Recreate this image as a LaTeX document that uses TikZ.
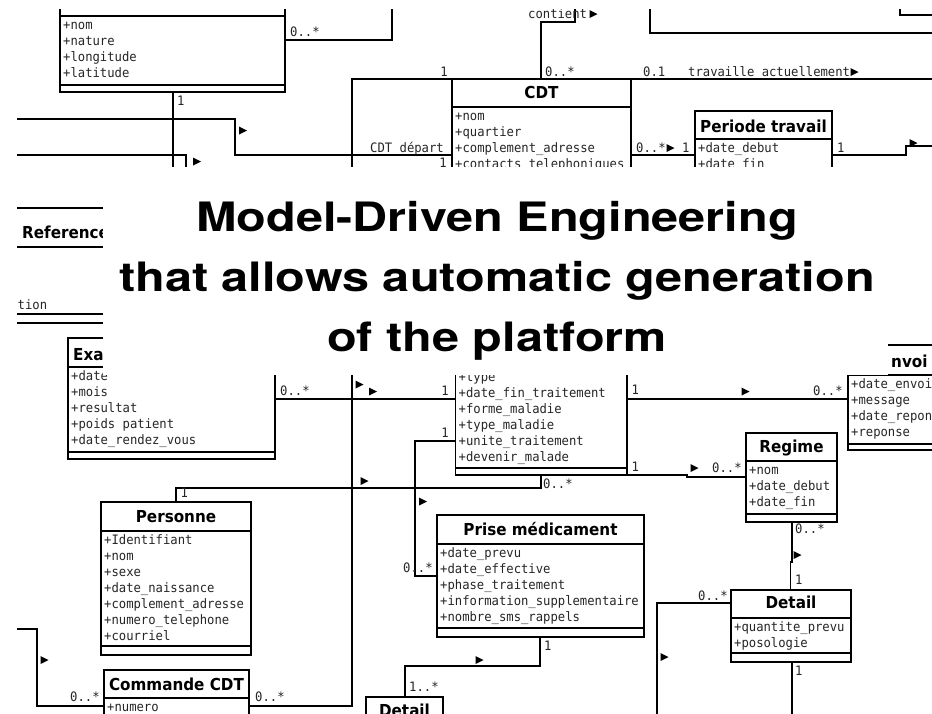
\documentclass[tikz,border=0pt]{standalone}
\usepackage{fontspec}
\newfontfamily\monof[FakeStretch=0.94]{DejaVu Sans Mono}
\newfontfamily\clsf[FakeStretch=0.92]{DejaVu Sans}
\newfontfamily\headf[FakeStretch=1.2]{TeX Gyre Heros}

\tikzset{
  uml/.style={line width=1.7pt, line join=miter},
  clsbox/.style={draw, line width=1.7pt, inner sep=0pt, outer sep=0pt, anchor=north west},
  clsname/.style={font=\clsf\bfseries\fontsize{16.5}{18}\selectfont, inner sep=0pt, anchor=base},
  attr/.style={font=\monof\fontsize{13}{16}\selectfont, inner sep=0pt, anchor=base west, text=black!85},
  mult/.style={attr},
  multr/.style={attr, anchor=base east},
  headline/.style={font=\headf\bfseries\fontsize{40.5}{48}\selectfont, inner sep=0pt, anchor=base},
}

% class box: name, left, top, right, separator y, attribute bottom y, bottom y
\newcommand\umlbox[7]{%
  \node[clsbox, minimum width={(#4)-(#2)}, minimum height={(#7)-(#3)}] (#1) at (#2,#3) {};
  \draw[uml] (#2,#5) -- (#4,#5);
  \draw[uml] (#2,#6) -- (#4,#6);
}
% attribute rows: box name, left x, separator y, list
\newcommand\umlattrs[4]{%
  \foreach \t [count=\i] in {#4} {\node[attr] (#1-a\i) at ({#2+3},{#3+13.5+16*(\i-1)}) {\t};}
}
% reading-direction triangle
\newcommand\navtip[2]{\fill ({#1-3.5},{#2-4}) -- ({#1-3.5},{#2+4}) -- ({#1+4.5},{#2}) -- cycle;}

\begin{document}
\begin{tikzpicture}[x=1pt,y=-1pt]
\useasboundingbox (0,0) rectangle (932,713);
\fill[white] (0,0) rectangle (932,713);

\begin{scope}
\clip (17,9) rectangle (932,713);

% ---------- classes ----------
\umlbox{loc}{60}{-20}{285}{16}{85}{92}
\umlattrs{loc}{60}{16}{+nom,+nature,+longitude,+latitude}

\umlbox{cdt}{452}{79}{631}{107}{300}{307}
\node[clsname] (cdt-t) at (541.5,98) {CDT};
\umlattrs{cdt}{452}{107}{+nom,+quartier,+complement\_adresse,+contacts\_telephoniques}

\umlbox{periode}{695}{111}{832}{139}{300}{307}
\node[clsname] (periode-t) at (763.5,132) {Periode travail};
\umlattrs{periode}{695}{139}{+date\_debut,+date\_fin}

\umlbox{reference}{-10}{208}{220}{247}{314}{323}
\node[clsname, anchor=base west] (reference-t) at (22,238.5) {Reference};
\node[attr] (reference-a1) at (17.5,309.5) {tion};

\umlbox{exa}{68}{338}{275}{367}{452}{459}
\node[clsname, anchor=base west] (exa-t) at (73,360) {Exa};
\umlattrs{exa}{68}{367}{+date,+mois,+resultat,+poids patient,+date\_rendez\_vous}

\umlbox{mid}{455.5}{320}{627}{348}{468}{475}
\umlattrs{mid}{455.5}{367.5}{+type,+date\_fin\_traitement,+forme\_maladie,+type\_maladie,+unite\_traitement,+devenir\_malade}

\umlbox{envoi}{848}{345}{960}{375}{444}{450}
\node[clsname, anchor=base west] (envoi-t) at (891,367) {nvoi};
\umlattrs{envoi}{848}{375}{+date\_envoi,+message,+date\_repon,+reponse}

\umlbox{regime}{746}{433}{837}{461}{514}{522}
\node[clsname] (regime-t) at (791.5,452) {Regime};
\umlattrs{regime}{746}{461}{+nom,+date\_debut,+date\_fin}

\umlbox{personne}{101}{502}{251}{531}{646}{655}
\node[clsname] (personne-t) at (176,522) {Personne};
\umlattrs{personne}{101}{531}{+Identifiant,+nom,+sexe,+date\_naissance,+complement\_adresse,+numero\_telephone,+courriel}

\umlbox{prise}{437}{515}{644}{544}{628}{637}
\node[clsname] (prise-t) at (540.5,535) {Prise médicament};
\umlattrs{prise}{437}{544}{+date\_prevu,+date\_effective,+phase\_traitement,+information\_supplementaire,+nombre\_sms\_rappels}

\umlbox{detail}{731}{590}{851}{618}{653}{662}
\node[clsname] (detail-t) at (791,608) {Detail};
\umlattrs{detail}{731}{618}{+quantite\_prevu,+posologie}

\umlbox{commande}{104}{670}{249}{698}{760}{770}
\node[clsname] (commande-t) at (176.5,690) {Commande CDT};
\umlattrs{commande}{104}{698}{+numero}

\umlbox{detailb}{366}{697}{443}{725}{760}{770}
\node[clsname] (detailb-t) at (404.5,716) {Detail};

% ---------- associations ----------
\draw[uml] (loc.east |- 0,40) -- (392,40) -- (392,0);
\node[mult] (m1) at (290,36.5) {0..*};

\draw[uml] (loc.south -| 173,0) -- (173,250);
\node[mult] (m2) at (177,105) {1};

\draw[uml] (0,119) -- (235,119) -- (235,155) -- (cdt.west |- 0,155);
\navtip{242.5}{130.5}
\node[multr] (m3) at (444,152.5) {CDT départ};
\node[multr] (m4) at (447,167.5) {1};

\draw[uml] (0,155) -- (186,155) -- (186,250);
\navtip{196.5}{161.5}

\draw[uml] (commande.east |- 0,706) -- (352,706) -- (352,79) -- (cdt.north west);
\node[multr] (m5) at (448,76.5) {1};
\node[mult] (m6) at (255,701.5) {0..*};
\navtip{359}{384.5}

\draw[uml] (cdt.north -| 541,0) -- (541,22) -- (575,22) -- (575,0);
\node[mult] (m7) at (545,76.5) {0..*};
\node[mult] (m8) at (528,18.5) {contient};
\navtip{593}{14}

\draw[uml] (cdt.north east) -- (940,79);
\node[mult] (m9) at (643,76.5) {0.1};
\node[mult] (m10) at (688,76.5) {travaille actuellement};
\navtip{854}{72}

\draw[uml] (650,0) -- (650,33) -- (940,33);
\draw[uml] (900,0) -- (900,15) -- (940,15);

\draw[uml] (cdt.east |- 0,155) -- (periode.west |- 0,155);
\node[mult] (m11) at (636,152.5) {0..*};
\navtip{670}{148}
\node[mult] (m12) at (682,152.5) {1};

\draw[uml] (periode.east |- 0,155) -- (906,155) -- (906,146) -- (940,146);
\node[mult] (m13) at (837,152) {1};
\navtip{913}{143}

\draw[uml] (exa.east |- 0,399) -- (mid.west |- 0,399);
\node[mult] (m14) at (280,395.5) {0..*};
\node[multr] (m15) at (449,395.5) {1};
\navtip{372.5}{391.5}

\draw[uml] (mid.west |- 0,441) -- (415,441) -- (415,576) -- (prise.west |- 0,576);
\node[multr] (m16) at (449,437.5) {1};
\node[mult] (m17) at (403,572.5) {0..*};
\navtip{422.5}{501.5}

\draw[uml] (mid.south -| 541,0) -- (541,488) -- (176,488) -- (personne.north -| 176,0);
\node[mult] (m18) at (543,488.5) {0..*};
\node[mult] (m19) at (180.5,497.5) {1};
\navtip{364}{481}

\draw[uml] (mid.east |- 0,399) -- (envoi.west |- 0,399);
\node[mult] (m20) at (631.5,394.5) {1};
\node[mult] (m21) at (813,395.5) {0..*};
\navtip{745}{391.5}

\draw[uml] (mid.south east) -- (687,475) -- (687,477) -- (regime.west |- 0,477);
\node[mult] (m22) at (631.5,471) {1};
\node[mult] (m23) at (712,472) {0..*};
\navtip{694}{468}

\draw[uml] (regime.south -| 792,0) -- (792,562) -- (790.5,562) -- (detail.north -| 790.5,0);
\node[mult] (m24) at (795,533.5) {0..*};
\node[mult] (m25) at (795,584.5) {1};
\navtip{797}{555}

\draw[uml] (detail.west |- 0,603) -- (657,603) -- (657,720);
\node[mult] (m26) at (698,600.5) {0..*};
\navtip{664}{657}

\draw[uml] (detail.south -| 792,0) -- (792,720);
\node[mult] (m27) at (795,675.5) {1};

\draw[uml] (prise.south -| 540,0) -- (540,666) -- (405,666) -- (detailb.north -| 405,0);
\node[mult] (m28) at (544,650.5) {1};
\node[mult] (m29) at (409,691.5) {1..*};
\navtip{479}{660}

\draw[uml] (0,629) -- (37,629) -- (37,706) -- (commande.west |- 0,706);
\node[mult] (m30) at (70,701.5) {0..*};
\navtip{44}{660}
\end{scope}

% ---------- title banner ----------
\fill[white] (103,167) rectangle (888,375);
\node[headline] (h1) at (497,231) {Model-Driven Engineering};
\node[headline] (h2) at (497,291) {that allows automatic generation};
\node[headline] (h3) at (497,351) {of the platform};
\end{tikzpicture}
\end{document}
